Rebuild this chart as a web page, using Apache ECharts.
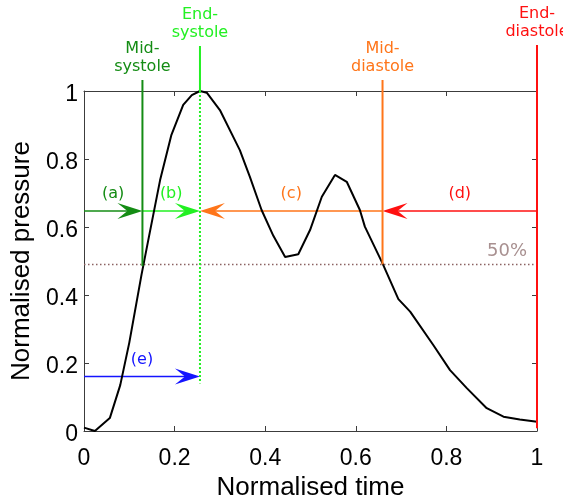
<!DOCTYPE html>
<html>
<head>
<meta charset="utf-8">
<script src="https://cdn.jsdelivr.net/npm/echarts@6/dist/echarts.min.js"></script>
<style>
html,body{margin:0;padding:0;background:#fff;}
#chart{width:563px;height:499px;}
</style>
</head>
<body>
<div id="chart"></div>
<script>
// ---- data ----
const timeValues = [0, 0.024, 0.057, 0.08, 0.1, 0.127, 0.142, 0.168, 0.193, 0.219, 0.238, 0.256, 0.271, 0.3, 0.344, 0.366, 0.392, 0.418, 0.444, 0.473, 0.499, 0.525, 0.554, 0.58, 0.609, 0.62, 0.659, 0.694, 0.72, 0.771, 0.808, 0.845, 0.889, 0.926, 0.962, 1.0];
const pressureValues = [0.01, 0.0, 0.038, 0.135, 0.26, 0.46, 0.562, 0.738, 0.871, 0.959, 0.988, 1.0, 0.995, 0.944, 0.826, 0.748, 0.65, 0.574, 0.512, 0.52, 0.591, 0.689, 0.753, 0.733, 0.65, 0.601, 0.493, 0.388, 0.351, 0.253, 0.179, 0.126, 0.067, 0.042, 0.034, 0.027];

const xTickLabels = ['0', '0.2', '0.4', '0.6', '0.8', '1'];
const yTickLabels = ['0', '0.2', '0.4', '0.6', '0.8', '1'];

const eventNames = ['Mid-\nsystole', 'End-\nsystole', 'Mid-\ndiastole', 'End-\ndiastole'];
const eventTimes = [0.129, 0.256, 0.659, 1.0];
const eventBottoms = [0.485, 0.14, 0.49, 0.008];

const arrowLabels = ['(a)', '(b)', '(c)', '(d)', '(e)'];
const arrowStarts = [0, 0.129, 0.659, 1.0, 0];
const arrowEnds = [0.129, 0.256, 0.256, 0.659, 0.256];
const arrowLevels = [0.647, 0.647, 0.647, 0.647, 0.16];

const halfLevel = 0.49;
const halfLabel = '50%';

// ---- styles ----
const DARKGREEN = '#148c14', LIME = '#22f022', ORANGE = '#ff7519', RED = '#ff1010', BLUE = '#1414ff';
const eventColors = [DARKGREEN, LIME, ORANGE, RED];
const eventRise = [11, 45, 11, 46];
const eventDottedInside = [false, true, false, false];
const arrowColors = [DARKGREEN, LIME, ORANGE, RED, BLUE];
const ANN_FONT = '16px "DejaVu Sans"';
const AX_COLOR = '#3c3c3c';

const chart = echarts.init(document.getElementById('chart'), null, {renderer: 'canvas'});

function axisBase(extra) {
  return Object.assign({
    type: 'value', min: 0, max: 1, interval: 0.2,
    axisLine: {show: true, onZero: false, lineStyle: {color: AX_COLOR, width: 1}},
    axisTick: {show: true, inside: true, length: 5, lineStyle: {color: AX_COLOR, width: 1}},
    splitLine: {show: false}
  }, extra);
}

const curveData = timeValues.map((t, i) => [t, pressureValues[i]]);
const eventData = eventTimes.map((t, i) => [t, eventBottoms[i], i]);
const arrowData = arrowLabels.map((l, i) => [arrowStarts[i], arrowLevels[i], arrowEnds[i], i]);

const option = {
  animation: false,
  backgroundColor: '#ffffff',
  grid: {left: 84, right: 26, top: 91, bottom: 68, containLabel: false, outerBoundsMode: 'none'},
  xAxis: [
    axisBase({
      position: 'bottom',
      axisLabel: {show: true, margin: 16, color: '#000', fontSize: 23, fontFamily: '"Liberation Sans"',
        formatter: v => xTickLabels[Math.round(v / 0.2)]},
      name: 'Normalised time', nameLocation: 'middle', nameGap: 41,
      nameTextStyle: {color: '#000', fontSize: 26, fontFamily: '"Liberation Sans"'}
    }),
    axisBase({position: 'top', axisLabel: {show: false}})
  ],
  yAxis: [
    axisBase({
      position: 'left',
      axisLabel: {show: true, margin: 6, color: '#000', fontSize: 23, fontFamily: '"Liberation Sans"',
        verticalAlign: 'top', lineHeight: 8,
        formatter: v => yTickLabels[Math.round(v / 0.2)]},
      name: 'Normalised pressure', nameLocation: 'middle', nameGap: 29,
      nameTextStyle: {color: '#000', fontSize: 26, fontFamily: '"Liberation Sans"'}
    }),
    axisBase({position: 'right', axisLabel: {show: false}})
  ],
  series: [
    {
      type: 'custom', name: 'half', coordinateSystem: 'cartesian2d', clip: false, z: 2,
      data: [[0, halfLevel]],
      renderItem: function (params, api) {
        const p0 = api.coord([0, api.value(1)]);
        const p1 = api.coord([1, api.value(1)]);
        return {type: 'group', children: [
          {type: 'line', shape: {x1: p0[0], y1: p0[1], x2: p1[0], y2: p1[1]},
            style: {stroke: '#8b6262', lineWidth: 1.5, lineDash: [1.5, 2.5]}},
          {type: 'text', style: {text: halfLabel, x: p1[0] - 10, y: p1[1] - 4, align: 'right', verticalAlign: 'bottom',
            font: '18px "DejaVu Sans"', fill: '#a89090'}}
        ]};
      }
    },
    {
      type: 'custom', name: 'arrows', coordinateSystem: 'cartesian2d', clip: false, z: 3,
      data: arrowData,
      renderItem: function (params, api) {
        const i = api.value(3);
        const y = api.value(1);
        const a = api.coord([api.value(0), y]);
        const b = api.coord([api.value(2), y]);
        const d = b[0] > a[0] ? 1 : -1;
        const L = 25, W = 8;
        const c = arrowColors[i];
        const tip = [b[0], b[1]];
        const head = [tip, [tip[0] - d * L, tip[1] - W], [tip[0] - d * L * 0.6, tip[1]], [tip[0] - d * L, tip[1] + W]];
        return {type: 'group', children: [
          {type: 'line', shape: {x1: a[0], y1: a[1], x2: tip[0] - d * 4, y2: tip[1]}, style: {stroke: c, lineWidth: 1.5}},
          {type: 'polygon', shape: {points: head}, style: {fill: c}},
          {type: 'text', style: {text: arrowLabels[i], x: (a[0] + b[0]) / 2, y: a[1] - 9, align: 'center', verticalAlign: 'bottom',
            font: ANN_FONT, fill: c}}
        ]};
      }
    },
    {
      type: 'line', name: 'pressure', data: curveData, showSymbol: false, symbol: 'none', z: 4,
      lineStyle: {color: '#000', width: 2}, clip: false
    },
    {
      type: 'custom', name: 'events', coordinateSystem: 'cartesian2d', clip: false, z: 5,
      data: eventData,
      renderItem: function (params, api) {
        const i = api.value(2);
        const top = params.coordSys.y;
        const bottom = api.coord([api.value(0), api.value(1)]);
        const x = bottom[0];
        const c = eventColors[i];
        const yTop = top - eventRise[i];
        const children = [];
        if (eventDottedInside[i]) {
          children.push({type: 'line', shape: {x1: x, y1: yTop, x2: x, y2: top}, style: {stroke: c, lineWidth: 2}});
          children.push({type: 'line', shape: {x1: x, y1: top, x2: x, y2: bottom[1]}, style: {stroke: c, lineWidth: 2, lineDash: [2, 2]}});
        } else {
          children.push({type: 'line', shape: {x1: x, y1: yTop, x2: x, y2: bottom[1]}, style: {stroke: c, lineWidth: 2}});
        }
        children.push({type: 'text', style: {text: eventNames[i], x: x, y: yTop - 4, align: 'center', verticalAlign: 'bottom',
          font: ANN_FONT, lineHeight: 18, fill: c}});
        return {type: 'group', children: children};
      }
    }
  ]
};
chart.setOption(option);
</script>
</body>
</html>
